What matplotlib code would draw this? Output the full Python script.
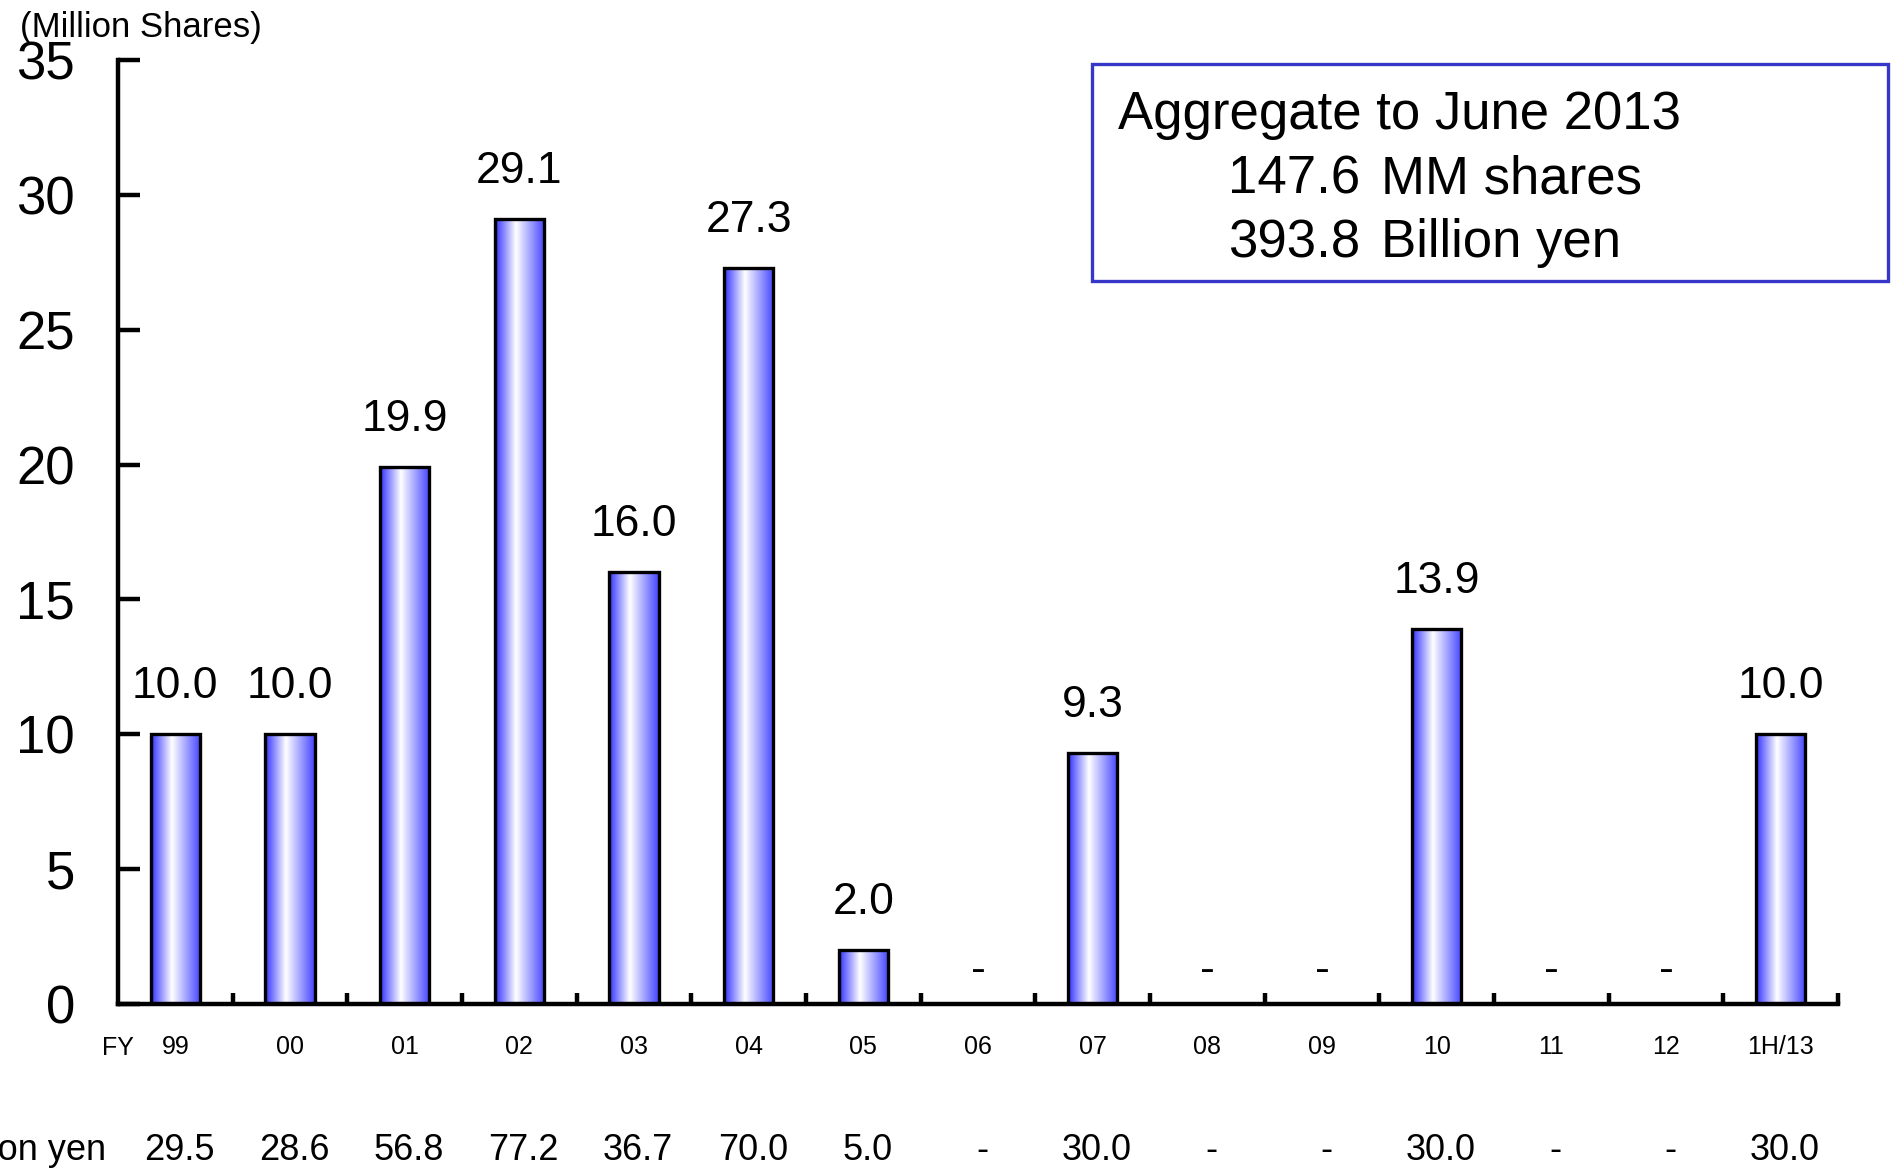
import matplotlib.pyplot as plt
import numpy as np
from matplotlib.colors import LinearSegmentedColormap
from matplotlib.patches import Rectangle

plt.rcParams['font.family'] = ['Liberation Sans', 'DejaVu Sans']

# data
years = ['99', '00', '01', '02', '03', '04', '05', '06', '07', '08', '09', '10', '11', '12', '1H/13']
shares = [10.0, 10.0, 19.9, 29.1, 16.0, 27.3, 2.0, 0, 9.3, 0, 0, 13.9, 0, 0, 10.0]
yen = ['29.5', '28.6', '56.8', '77.2', '36.7', '70.0', '5.0', '-', '30.0', '-', '-', '30.0', '-', '-', '30.0']
box_title = 'Aggregate to June 2013'
box_nums = ['147.6', '393.8']
box_units = ['MM shares', 'Billion yen']

W, H = 1892, 1168
fig = plt.figure(figsize=(W / 100, H / 100), dpi=100)
ax = fig.add_axes([118 / W, (H - 1004) / H, (1838 - 118) / W, (1004 - 60) / H])

x = np.arange(len(years))
bars = ax.bar(x, shares, width=0.43, facecolor='none', edgecolor='black', lw=2.4, zorder=3)

# blue - white - blue gradient inside each bar
cmap = LinearSegmentedColormap.from_list('bw', [(0, '#3030ff'), (0.42, '#ffffff'), (1, '#4444ff')])
grad = np.linspace(0, 1, 256).reshape(1, -1)
for b in bars:
    if b.get_height() > 0:
        ax.imshow(grad, cmap=cmap, aspect='auto', zorder=2,
                  extent=(b.get_x(), b.get_x() + b.get_width(), 0, b.get_height()))

ax.set_xlim(-0.5, len(years) - 0.5)
ax.set_ylim(0, 35)

for i, v in enumerate(shares):
    if v > 0:
        ax.annotate(f'{v:.1f}', (i, v), xytext=(0, 26), textcoords='offset points',
                    ha='center', va='baseline', fontsize=32)
    else:
        ax.annotate('-', (i, 0), xytext=(0, 16), textcoords='offset points',
                    ha='center', va='baseline', fontsize=32)

for s in ['top', 'right']:
    ax.spines[s].set_visible(False)
for s in ['left', 'bottom']:
    ax.spines[s].set_linewidth(3.2)

ax.set_yticks(range(0, 36, 5))
ax.tick_params(axis='y', direction='in', length=16, width=3.2, labelsize=38, pad=31)
ax.set_xticks(np.arange(0.5, len(years), 1))
ax.set_xticklabels([])
ax.tick_params(axis='x', which='major', direction='in', length=8, width=3.2)
ax.set_xticks(x, minor=True)
ax.set_xticklabels(years, minor=True)
ax.tick_params(axis='x', which='minor', length=0, labelsize=18, pad=22)

trans = ax.get_xaxis_transform()
ax.text(-0.5, (1004 - 1055) / 944, 'FY', transform=trans, ha='center', va='baseline', fontsize=18)
for i, t in enumerate(yen):
    ax.annotate(t, (i, (1004 - 1160) / 944), xycoords=trans, xytext=(3, 0),
                textcoords='offset points', ha='center', va='baseline', fontsize=26)
fig.text(106 / W, (H - 1160) / H, 'Billion yen', ha='right', va='baseline', fontsize=26)

fig.text(20 / W, (H - 37) / H, '(Million Shares)', ha='left', va='baseline', fontsize=25)

fig.patches.append(Rectangle((1092 / W, (H - 281) / H), (1888 - 1092) / W, 217 / H,
                             transform=fig.transFigure, facecolor='white',
                             edgecolor='#3636c8', lw=2.4))
fig.text(1118 / W, (H - 129) / H, box_title, fontsize=38, va='baseline')
for k in range(2):
    yb = (H - 193 - 64 * k) / H
    fig.text(1228 / W, yb, box_nums[k], fontsize=38, va='baseline')
    fig.text(1381 / W, yb, box_units[k], fontsize=38, va='baseline')

fig.savefig('out.png', dpi=100)
